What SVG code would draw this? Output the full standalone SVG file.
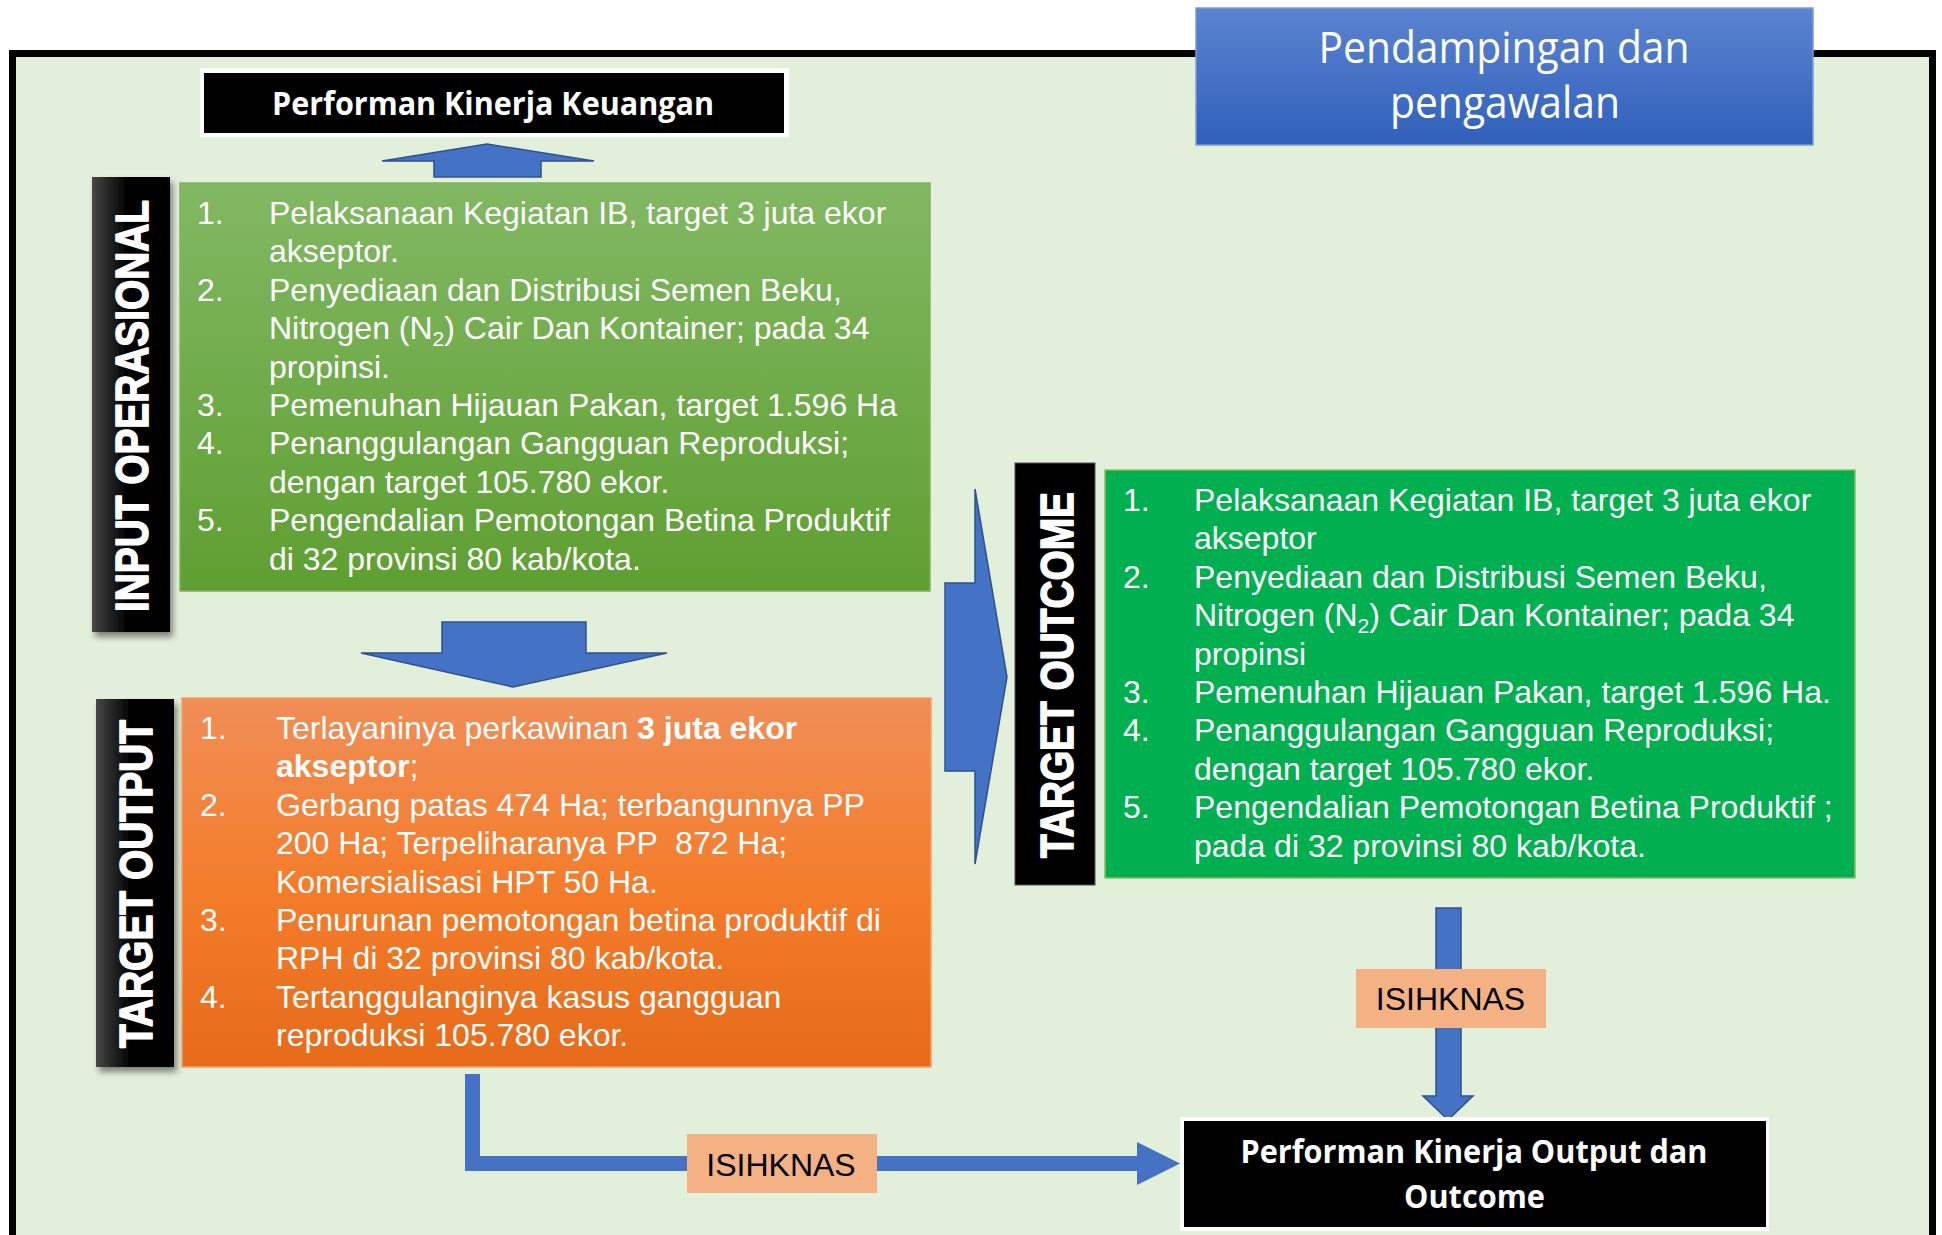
<svg xmlns="http://www.w3.org/2000/svg" width="1942" height="1235" viewBox="0 0 1942 1235">
<defs>
<style>
.li{font-family:"Liberation Sans",Arial,sans-serif;font-size:32px;fill:#fff}
.b{font-weight:bold}
.bar{font-family:"Liberation Sans",Arial,sans-serif;font-size:46px;font-weight:bold;fill:#fff;stroke:#fff;stroke-width:1.6;stroke-linejoin:round;text-anchor:middle}
.ttl{font-family:"Open Sans","Noto Sans",sans-serif;font-size:32px;font-weight:bold;fill:#fff;text-anchor:middle}
.isi{font-family:"Liberation Sans",Arial,sans-serif;font-size:32px;fill:#000;text-anchor:middle}
.arrow{fill:#4472C4;stroke:#2F528F;stroke-width:1.5}
.tag{fill:#F4B183}
</style>
<linearGradient id="gGreen" x1="0" y1="0" x2="0" y2="1">
<stop offset="0" stop-color="#82B863"/><stop offset="1" stop-color="#5E9F31"/>
</linearGradient>
<linearGradient id="gOrange" x1="0" y1="0" x2="0" y2="1">
<stop offset="0" stop-color="#F08E57"/><stop offset="0.5" stop-color="#F47D2C"/><stop offset="1" stop-color="#E66B1A"/>
</linearGradient>
<linearGradient id="gBlue" x1="0" y1="0" x2="0" y2="1">
<stop offset="0" stop-color="#5B84D0"/><stop offset="1" stop-color="#3060BB"/>
</linearGradient>
<linearGradient id="gBar" x1="0" y1="0" x2="1" y2="0">
<stop offset="0" stop-color="#474747"/><stop offset="0.45" stop-color="#000"/><stop offset="1" stop-color="#000"/>
</linearGradient>
<filter id="sh" x="-20%" y="-5%" width="150%" height="115%">
<feDropShadow dx="3" dy="5" stdDeviation="3" flood-color="#000" flood-opacity="0.45"/>
</filter>
</defs>

<rect id="frame" x="12.5" y="53.5" width="1920" height="1260" fill="#E2EFDA" stroke="#000" stroke-width="7"/>

<g id="pendampingan">
<rect x="1196" y="8" width="617" height="137" fill="url(#gBlue)" stroke="#7C9BD8" stroke-width="1.5"/>
<text x="1504" y="63" font-family="'Open Sans','Noto Sans',sans-serif" font-size="43" fill="#fff" text-anchor="middle" textLength="371" lengthAdjust="spacingAndGlyphs">Pendampingan dan</text>
<text x="1505" y="118" font-family="'Open Sans','Noto Sans',sans-serif" font-size="43" fill="#fff" text-anchor="middle" textLength="230" lengthAdjust="spacingAndGlyphs">pengawalan</text>
</g>

<g id="kinerja-keuangan">
<rect x="200" y="68" width="589" height="69" fill="#fff"/>
<rect x="204" y="73" width="580" height="60" fill="#000"/>
<text class="ttl" x="493" y="115" textLength="442" lengthAdjust="spacingAndGlyphs">Performan Kinerja Keuangan</text>
</g>

<g id="connectors">
<polygon class="arrow" points="487,144 594,161 541,161 541,177 434,177 434,161 382,161"/>
<polygon class="arrow" points="442,622 586,622 586,653 667,653 513,687 361,653 442,653"/>
<polygon class="arrow" points="945,583 975,583 975,489 1007,677 975,864 975,771 945,771"/>
<polygon class="arrow" points="1436,908 1461,908 1461,1096 1473,1096 1448,1120 1423,1096 1436,1096"/>
<polygon fill="#4472C4" points="465,1074 480,1074 480,1156 1137,1156 1137,1142 1180,1163.5 1137,1185 1137,1171 465,1171"/>
</g>

<g id="input-operasional">
<rect x="92" y="177" width="78" height="455" fill="url(#gBar)" filter="url(#sh)"/>
<text class="bar" transform="translate(148,406) rotate(-90)" textLength="412" lengthAdjust="spacingAndGlyphs">INPUT OPERASIONAL</text>
</g>

<g id="input-list">
<rect x="180" y="183" width="750" height="408" fill="url(#gGreen)" stroke="#7DB55A" stroke-width="1.5"/>
<text class="li" x="197" y="224">1.</text><text class="li" x="269" y="224">Pelaksanaan Kegiatan IB, target 3 juta ekor</text>
<text class="li" x="269" y="262.4">akseptor.</text>
<text class="li" x="197" y="300.8">2.</text><text class="li" x="269" y="300.8">Penyediaan dan Distribusi Semen Beku,</text>
<text class="li" x="269" y="339.2">Nitrogen (N<tspan font-size="21" dy="7">2</tspan><tspan dy="-7">) Cair Dan Kontainer; pada 34</tspan></text>
<text class="li" x="269" y="377.6">propinsi.</text>
<text class="li" x="197" y="416">3.</text><text class="li" x="269" y="416">Pemenuhan Hijauan Pakan, target 1.596 Ha</text>
<text class="li" x="197" y="454.4">4.</text><text class="li" x="269" y="454.4">Penanggulangan Gangguan Reproduksi;</text>
<text class="li" x="269" y="492.8">dengan target 105.780 ekor.</text>
<text class="li" x="197" y="531.2">5.</text><text class="li" x="269" y="531.2">Pengendalian Pemotongan Betina Produktif</text>
<text class="li" x="269" y="569.6">di 32 provinsi 80 kab/kota.</text>
</g>

<g id="target-output">
<rect x="96" y="699" width="78" height="368" fill="url(#gBar)" filter="url(#sh)"/>
<text class="bar" transform="translate(152,884) rotate(-90)" textLength="328" lengthAdjust="spacingAndGlyphs">TARGET OUTPUT</text>
</g>

<g id="output-list">
<rect x="182" y="698" width="749" height="369" fill="url(#gOrange)" stroke="#F4A06A" stroke-width="1.5"/>
<text class="li" x="200" y="739">1.</text><text class="li" x="276" y="739">Terlayaninya perkawinan <tspan class="b">3 juta ekor</tspan></text>
<text class="li" x="276" y="777.4"><tspan class="b">akseptor</tspan>;</text>
<text class="li" x="200" y="815.8">2.</text><text class="li" x="276" y="815.8">Gerbang patas 474 Ha; terbangunnya PP</text>
<text class="li" x="276" y="854.2" xml:space="preserve">200 Ha; Terpeliharanya PP  872 Ha;</text>
<text class="li" x="276" y="892.6">Komersialisasi HPT 50 Ha.</text>
<text class="li" x="200" y="931">3.</text><text class="li" x="276" y="931">Penurunan pemotongan betina produktif di</text>
<text class="li" x="276" y="969.4">RPH di 32 provinsi 80 kab/kota.</text>
<text class="li" x="200" y="1007.8">4.</text><text class="li" x="276" y="1007.8">Tertanggulanginya kasus gangguan</text>
<text class="li" x="276" y="1046.2">reproduksi 105.780 ekor.</text>
</g>

<g id="target-outcome">
<rect x="1015" y="463" width="80" height="422" fill="#000" stroke="#555" stroke-width="1"/>
<text class="bar" transform="translate(1073,675) rotate(-90)" textLength="366" lengthAdjust="spacingAndGlyphs">TARGET OUTCOME</text>
</g>

<g id="outcome-list">
<rect x="1105" y="470" width="750" height="408" fill="#00B050" stroke="#8DBF5A" stroke-width="1.5"/>
<text class="li" x="1123" y="511">1.</text><text class="li" x="1194" y="511">Pelaksanaan Kegiatan IB, target 3 juta ekor</text>
<text class="li" x="1194" y="549.4">akseptor</text>
<text class="li" x="1123" y="587.8">2.</text><text class="li" x="1194" y="587.8">Penyediaan dan Distribusi Semen Beku,</text>
<text class="li" x="1194" y="626.2">Nitrogen (N<tspan font-size="21" dy="7">2</tspan><tspan dy="-7">) Cair Dan Kontainer; pada 34</tspan></text>
<text class="li" x="1194" y="664.6">propinsi</text>
<text class="li" x="1123" y="703">3.</text><text class="li" x="1194" y="703">Pemenuhan Hijauan Pakan, target 1.596 Ha.</text>
<text class="li" x="1123" y="741.4">4.</text><text class="li" x="1194" y="741.4">Penanggulangan Gangguan Reproduksi;</text>
<text class="li" x="1194" y="779.8">dengan target 105.780 ekor.</text>
<text class="li" x="1123" y="818.2">5.</text><text class="li" x="1194" y="818.2">Pengendalian Pemotongan Betina Produktif ;</text>
<text class="li" x="1194" y="856.6">pada di 32 provinsi 80 kab/kota.</text>
</g>

<g id="isihknas-right">
<rect class="tag" x="1356" y="969" width="190" height="59"/>
<text class="isi" x="1450.5" y="1010">ISIHKNAS</text>
</g>

<g id="isihknas-bottom">
<rect class="tag" x="687" y="1134" width="190" height="59"/>
<text class="isi" x="781" y="1176">ISIHKNAS</text>
</g>

<g id="kinerja-output">
<rect x="1180" y="1117" width="589" height="114" fill="#fff"/>
<rect x="1184" y="1121" width="582" height="106" fill="#000"/>
<text class="ttl" x="1474" y="1163" textLength="467" lengthAdjust="spacingAndGlyphs">Performan Kinerja Output dan</text>
<text class="ttl" x="1474.5" y="1208" textLength="141" lengthAdjust="spacingAndGlyphs">Outcome</text>
</g>
</svg>
